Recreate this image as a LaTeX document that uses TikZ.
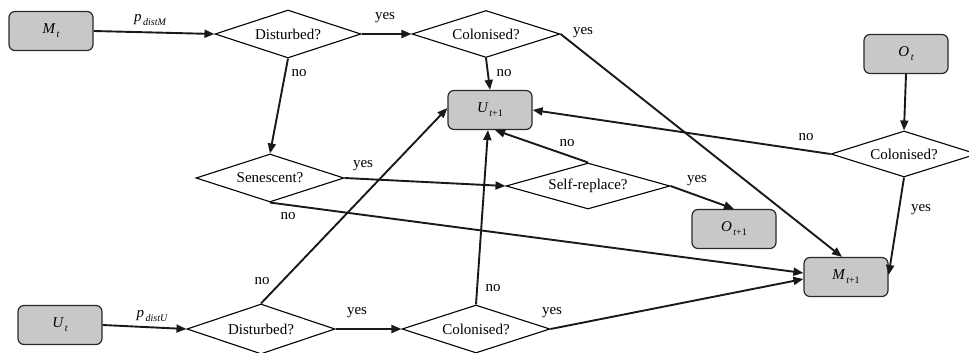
\documentclass[tikz,border=0pt]{standalone}
\usepackage{fontspec}
\setmainfont{Liberation Serif}
\usetikzlibrary{arrows.meta,shapes.geometric}
\newcommand\mysub[1]{\hspace{1.5pt}\raisebox{-0.6ex}{\fontsize{10}{10}\selectfont #1}}
\definecolor{boxfill}{HTML}{C8C8C8}
\definecolor{boxline}{HTML}{2A2A2A}
\begin{document}
\begin{tikzpicture}[x=1pt,y=-1pt,
  every node/.style={font=\fontsize{15}{18}\selectfont},
  state/.style={draw=boxline,fill=boxfill,line width=1.2pt,rounded corners=6pt,
    minimum width=84pt,minimum height=39pt,inner sep=0pt},
  decide/.style={draw=black,line width=1.1pt,shape=diamond,shape aspect=3,inner sep=0pt},
  flow/.style={line width=1.9pt,draw=black!90,-{Triangle[length=10pt,width=8pt]}},
  lbl/.style={inner sep=0pt}]
\useasboundingbox (0,0) rectangle (969,353);
% state boxes
\node[state] (Mt) at (51,31) {{\itshape M}\mysub{\itshape t}};
\node[state] (U1) at (490,110) {{\itshape U}\mysub{\itshape t\upshape +1}};
\node[state] (Ot) at (906,54) {{\itshape O}\mysub{\itshape t}};
\node[state] (O1) at (734,229) {{\itshape O}\mysub{\itshape t\upshape +1}};
\node[state] (M1) at (846,277) {{\itshape M}\mysub{\itshape t\upshape +1}};
\node[state] (Ut) at (60,325) {{\itshape U}\mysub{\itshape t}};
% decisions
\node[decide,minimum width=146pt,minimum height=48pt] (D1) at (288,34) {Disturbed?};
\node[decide,minimum width=148pt,minimum height=47pt] (C1) at (486,34) {Colonised?};
\node[decide,minimum width=146pt,minimum height=46pt] (C2) at (904,154) {Colonised?};
\node[decide,minimum width=148pt,minimum height=48pt] (S) at (270,178) {Senescent?};
\node[decide,minimum width=164pt,minimum height=46pt] (R) at (588,186) {Self-replace?};
\node[decide,minimum width=148pt,minimum height=50pt] (D2) at (261,329) {Disturbed?};
\node[decide,minimum width=148pt,minimum height=48pt] (C3) at (476,329) {Colonised?};
% connectors
\draw[flow] (Mt.east) -- (D1.west);
\draw[flow] (D1.east) -- (C1.west);
\draw[flow] (C1.south) -- (U1.north);
\draw[flow] (C1.east) -- ([xshift=-4pt]M1.north);
\draw[flow] (D1.south) -- (S.north);
\draw[flow] (Ot.south) -- (C2.north);
\draw[flow] (C2.west) -- (U1.east);
\draw[flow] (C2.south) -- ([yshift=2pt]M1.east);
\draw[flow] (S.east) -- (R.west);
\draw[flow] (S.south) -- ([yshift=4pt]M1.west);
\draw[flow] (R.north) -- ([xshift=5pt]U1.south);
\draw[flow] (R.east) -- (O1.north);
\draw[flow] (D2.north) -- ([yshift=2pt]U1.west);
\draw[flow] (D2.east) -- (C3.west);
\draw[flow] (C3.north) -- ([xshift=-2pt]U1.south);
\draw[flow] (C3.east) -- ([yshift=-2pt]M1.west);
\draw[flow] (Ut.east) -- (D2.west);
% labels
\node[lbl] (lpM) at (150,20) {{\itshape p}\mysub{\itshape distM}};
\node[lbl] (lpU) at (152,316) {{\itshape p}\mysub{\itshape distU}};
\node[lbl] (l1) at (385,18) {yes};
\node[lbl] (l2) at (504,73) {no};
\node[lbl] (l3) at (583,33) {yes};
\node[lbl] (l4) at (299,73) {no};
\node[lbl] (l5) at (806,137) {no};
\node[lbl] (l6) at (921,210) {yes};
\node[lbl] (l7) at (363,166) {yes};
\node[lbl] (l8) at (288,216) {no};
\node[lbl] (l9) at (567,143) {no};
\node[lbl] (l10) at (697,181) {yes};
\node[lbl] (l11) at (262,281) {no};
\node[lbl] (l12) at (357,313) {yes};
\node[lbl] (l13) at (493,288) {no};
\node[lbl] (l14) at (552,313) {yes};
\end{tikzpicture}
\end{document}
